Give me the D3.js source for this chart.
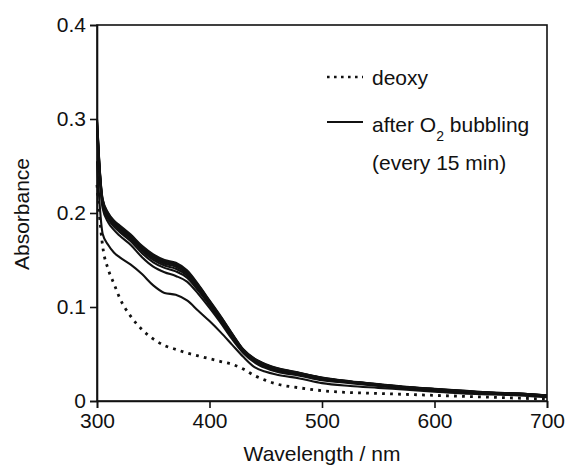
<!DOCTYPE html>
<html>
<head>
<meta charset="utf-8">
<script src="https://cdn.jsdelivr.net/npm/d3@7"></script>
<style>
  body { margin: 0; background: #fff; }
  text { font-family: "Liberation Sans", Arial, sans-serif; fill: #111; }
</style>
</head>
<body>
<div id="chart"></div>
<script>
const wavelength = [300, 302, 305, 310, 315, 320, 330, 340, 350, 360, 370, 380, 390, 400, 410,
  420, 430, 440, 450, 460, 480, 500, 525, 550, 575, 600, 625, 650, 675, 700];

const deoxy = [0.230, 0.200, 0.165, 0.140, 0.125, 0.110, 0.090, 0.076, 0.066, 0.059, 0.055, 0.051, 0.048, 0.045, 0.042,
  0.039, 0.034, 0.027, 0.022, 0.018, 0.014, 0.011, 0.009, 0.008, 0.007, 0.006, 0.005, 0.004, 0.003, 0.002];

// after O2 bubbling, every 15 min
const o2_15 = [0.255, 0.215, 0.178, 0.166, 0.158, 0.153, 0.145, 0.135, 0.123, 0.115, 0.113, 0.107, 0.096, 0.085, 0.073,
  0.060, 0.047, 0.036, 0.031, 0.028, 0.024, 0.019, 0.016, 0.014, 0.012, 0.010, 0.008, 0.007, 0.006, 0.004];
const o2_30 = [0.285, 0.245, 0.205, 0.190, 0.182, 0.176, 0.166, 0.153, 0.143, 0.137, 0.133, 0.127, 0.114, 0.099, 0.083,
  0.066, 0.051, 0.041, 0.035, 0.031, 0.027, 0.022, 0.019, 0.016, 0.013, 0.011, 0.009, 0.008, 0.007, 0.005];
const o2_45 = [0.290, 0.2485, 0.2085, 0.1935, 0.1855, 0.1799, 0.1699, 0.1572, 0.1476, 0.1416, 0.1379, 0.1312, 0.1175, 0.1018, 0.0855,
  0.0681, 0.0524, 0.0424, 0.0364, 0.0324, 0.028, 0.023, 0.0197, 0.0167, 0.0137, 0.0117, 0.0097, 0.0084, 0.0074, 0.0054];
const o2_60 = [0.2933, 0.2505, 0.2105, 0.1955, 0.1875, 0.1820, 0.1720, 0.1596, 0.1502, 0.1442, 0.1407, 0.1336, 0.1195, 0.1034, 0.0869,
  0.0693, 0.0532, 0.0432, 0.0372, 0.0332, 0.0287, 0.0237, 0.0201, 0.0171, 0.0141, 0.0121, 0.0101, 0.0086, 0.0076, 0.0056];
const o2_75 = [0.2955, 0.252, 0.212, 0.197, 0.189, 0.1837, 0.1737, 0.1614, 0.1521, 0.1461, 0.1428, 0.1354, 0.121, 0.1046, 0.0879,
  0.0702, 0.0538, 0.0438, 0.0378, 0.0338, 0.0291, 0.0241, 0.0204, 0.0174, 0.0144, 0.0124, 0.0104, 0.0087, 0.0077, 0.0057];
const o2_90 = [0.2973, 0.2532, 0.2132, 0.1982, 0.1902, 0.185, 0.175, 0.1628, 0.1537, 0.1477, 0.1445, 0.1368, 0.1222, 0.1056, 0.0887,
  0.0709, 0.0543, 0.0443, 0.0383, 0.0343, 0.0295, 0.0245, 0.0206, 0.0176, 0.0146, 0.0126, 0.0106, 0.0088, 0.0078, 0.0058];
const o2_105 = [0.2988, 0.2542, 0.2142, 0.1992, 0.1912, 0.1861, 0.1761, 0.164, 0.155, 0.149, 0.1459, 0.138, 0.1232, 0.1064, 0.0894,
  0.0715, 0.0547, 0.0447, 0.0387, 0.0347, 0.0298, 0.0248, 0.0208, 0.0178, 0.0148, 0.0128, 0.0108, 0.0089, 0.0079, 0.0059];
const o2_120 = [0.300, 0.255, 0.215, 0.200, 0.192, 0.187, 0.177, 0.165, 0.156, 0.150, 0.147, 0.139, 0.124, 0.107, 0.090,
  0.072, 0.055, 0.045, 0.039, 0.035, 0.030, 0.025, 0.021, 0.018, 0.015, 0.013, 0.011, 0.009, 0.008, 0.006];

const xTicks = [300, 400, 500, 600, 700];
const yTicks = [0, 0.1, 0.2, 0.3, 0.4];

const width = 566, height = 466, margin = { top: 25, right: 19, bottom: 65, left: 97 };
const fontSize = 21;

const svg = d3.select("#chart")
  .append("svg")
  .attr("width", width)
  .attr("height", height);

const x = d3.scaleLinear()
  .domain([300, 700])
  .range([margin.left, width - margin.right]);

const y = d3.scaleLinear()
  .domain([0, 0.4])
  .range([height - margin.bottom, margin.top]);

const line = d3.line()
  .x((d, i) => x(wavelength[i]))
  .y(d => y(d))
  .curve(d3.curveMonotoneX);

// solid curves, one per 15 min
const solids = [o2_15, o2_30, o2_45, o2_60, o2_75, o2_90, o2_105, o2_120];
svg.append("g")
  .selectAll("path")
  .data(solids)
  .enter()
  .append("path")
  .attr("d", line)
  .attr("fill", "none")
  .attr("stroke", "#111")
  .attr("stroke-width", 2.1);

svg.append("path")
  .attr("d", line(deoxy))
  .attr("fill", "none")
  .attr("stroke", "#111")
  .attr("stroke-width", 2.8)
  .attr("stroke-dasharray", "2.8,5.2");

// frame
svg.append("rect")
  .attr("x", margin.left)
  .attr("y", margin.top)
  .attr("width", width - margin.left - margin.right)
  .attr("height", height - margin.top - margin.bottom)
  .attr("fill", "none")
  .attr("stroke", "#111")
  .attr("stroke-width", 1.6);

const xAxis = svg.append("g")
  .attr("transform", `translate(0, ${height - margin.bottom})`)
  .call(d3.axisBottom(x).tickValues(xTicks).tickSize(7).tickPadding(5).tickFormat(d3.format("d")));

const yAxis = svg.append("g")
  .attr("transform", `translate(${margin.left}, 0)`)
  .call(d3.axisLeft(y).tickValues(yTicks).tickSize(7).tickPadding(4)
    .tickFormat(d => d === 0 ? "0" : d3.format(".1f")(d)));

[xAxis, yAxis].forEach(g => {
  g.select(".domain").attr("stroke", "#111").attr("stroke-width", 1.6);
  g.selectAll(".tick line").attr("stroke", "#111").attr("stroke-width", 1.6);
  g.selectAll(".tick text").attr("font-size", fontSize).attr("font-family", "Liberation Sans, Arial, sans-serif").attr("fill", "#111");
});

svg.append("text")
  .attr("x", x(500))
  .attr("y", 461)
  .attr("text-anchor", "middle")
  .attr("font-size", fontSize)
  .text("Wavelength / nm");

svg.append("text")
  .attr("transform", "translate(29, 214) rotate(-90)")
  .attr("text-anchor", "middle")
  .attr("font-size", fontSize)
  .text("Absorbance");

// legend
const legend = svg.append("g");
legend.append("line")
  .attr("x1", 327).attr("x2", 363).attr("y1", 77).attr("y2", 77)
  .attr("stroke", "#111").attr("stroke-width", 2.6).attr("stroke-dasharray", "2.6,4.4");
legend.append("text")
  .attr("x", 372).attr("y", 85)
  .attr("font-size", fontSize)
  .text("deoxy");

legend.append("line")
  .attr("x1", 327).attr("x2", 363).attr("y1", 122).attr("y2", 122)
  .attr("stroke", "#111").attr("stroke-width", 2.1);
const t2 = legend.append("text")
  .attr("x", 372).attr("y", 132)
  .attr("font-size", fontSize);
t2.append("tspan").text("after O");
t2.append("tspan").attr("font-size", 14).attr("dy", 9).text("2");
t2.append("tspan").attr("dy", -9).text(" bubbling");
legend.append("text")
  .attr("x", 372).attr("y", 170)
  .attr("font-size", fontSize)
  .text("(every 15 min)");
</script>
</body>
</html>
